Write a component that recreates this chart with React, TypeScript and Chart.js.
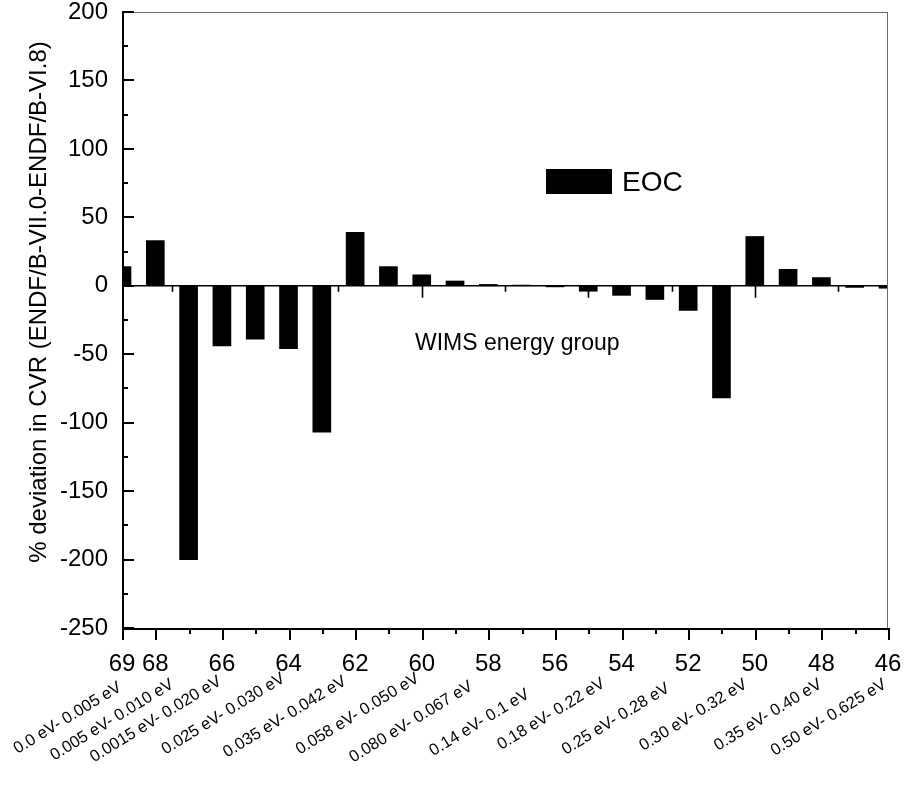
import React, { useEffect, useRef } from "react";
import { Chart, registerables } from "chart.js";

Chart.register(...registerables);

// ---- data ----
const groups = [69, 68, 67, 66, 65, 64, 63, 62, 61, 60, 59, 58, 57, 56, 55, 54, 53, 52, 51, 50, 49, 48, 47, 46];
const deviation = [14, 33, -200, -44, -39, -46, -107, 39, 14, 8, 3.5, 1, 0.5, -0.8, -4, -7, -10, -18, -82, 36, 12, 6, -1.2, -1.8];
const labelledGroups = [69, 68, 66, 64, 62, 60, 58, 56, 54, 52, 50, 48, 46];
const energyLabels = [
  "0.0 eV- 0.005 eV",
  "0.005 eV- 0.010 eV",
  "0.0015 eV- 0.020 eV",
  "0.025 eV- 0.030 eV",
  "0.035 eV- 0.042 eV",
  "0.058 eV- 0.050 eV",
  "0.080 eV- 0.067 eV",
  "0.14 eV- 0.1 eV",
  "0.18 eV- 0.22 eV",
  "0.25 eV- 0.28 eV",
  "0.30 eV- 0.32 eV",
  "0.35 eV- 0.40 eV",
  "0.50 eV- 0.625 eV",
];
const yMin = -250;
const yMax = 200;
const yStep = 25;
const seriesName = "EOC";
const yTitle = "% deviation in CVR (ENDF/B-VII.0-ENDF/B-VI.8)";
const plotNote = "WIMS energy group";

// ---- layout / style ----
const FONT = "'Liberation Sans', Arial, Helvetica, sans-serif";
const W = 904;
const H = 786;
// nudges (px) of each rotated energy label relative to its tick / plot bottom
const energyLabelNudge: [number, number][] = [
  [-2, 58], [17, 55], [-2, 52], [-5, 49], [-10, 52], [-4, 49], [-17, 57],
  [-27, 65], [-18, 54], [-20, 59], [-9, 55], [-1, 55], [-3, 55],
];

const overlay = {
  id: "overlay",
  afterDatasetsDraw(chart: any) {
    const ctx: CanvasRenderingContext2D = chart.ctx;
    const xs = chart.scales.x;
    const ys = chart.scales.y;
    const { left, right, top, bottom } = chart.chartArea;
    const line = (x1: number, y1: number, x2: number, y2: number) => {
      ctx.beginPath();
      ctx.moveTo(x1, y1);
      ctx.lineTo(x2, y2);
      ctx.stroke();
    };
    ctx.save();

    // zero line with its own ticks
    const y0 = ys.getPixelForValue(0);
    ctx.strokeStyle = "#000";
    ctx.lineWidth = 1.6;
    line(left, y0, right, y0);
    for (let v = 67.5; v > 46; v -= 2.5) {
      const px = Math.round(xs.getPixelForValue(v)) + 0.5;
      line(px, y0, px, y0 + (v % 5 === 0 ? 12 : 6));
    }

    // gray frame top/right
    ctx.strokeStyle = "#6a6a6a";
    ctx.lineWidth = 1;
    line(left, top + 0.5, right, top + 0.5);
    line(right - 0.5, top, right - 0.5, bottom);

    // left and bottom axes
    ctx.strokeStyle = "#000";
    ctx.lineWidth = 2;
    line(left + 1, top, left + 1, bottom + 2);
    line(left, bottom + 1, right, bottom + 1);

    // y ticks (inward)
    for (let v = yMin; v <= yMax; v += yStep) {
      const py = Math.round(ys.getPixelForValue(v));
      line(left, py, left + (v % 50 === 0 ? 12 : 6), py);
    }
    // x ticks (outward)
    for (const g of groups) {
      const px = Math.round(xs.getPixelForValue(g)) + 1;
      line(px, bottom, px, bottom + (labelledGroups.includes(g) ? 12 : 6));
    }

    // legend
    ctx.fillStyle = "#000";
    ctx.fillRect(left + 424, top + 157, 66, 25);
    ctx.font = `28px ${FONT}`;
    ctx.textAlign = "left";
    ctx.textBaseline = "middle";
    ctx.fillText(seriesName, left + 500, top + 171);

    // in-plot note
    ctx.font = `23px ${FONT}`;
    ctx.fillText(plotNote, left + 293, top + 332);

    // rotated energy labels
    ctx.font = `16.5px ${FONT}`;
    ctx.textAlign = "right";
    ctx.textBaseline = "middle";
    labelledGroups.forEach((g, i) => {
      const [dx, dy] = energyLabelNudge[i];
      ctx.save();
      ctx.translate(xs.getPixelForValue(g) + dx, bottom + dy);
      ctx.rotate((-31.5 * Math.PI) / 180);
      ctx.fillText(energyLabels[i], 0, 0);
      ctx.restore();
    });

    // y title
    ctx.save();
    ctx.font = `24px ${FONT}`;
    ctx.textAlign = "center";
    ctx.textBaseline = "middle";
    ctx.translate(39, (top + bottom) / 2 - 18);
    ctx.rotate(-Math.PI / 2);
    ctx.fillText(yTitle, 0, 0);
    ctx.restore();

    ctx.restore();
  },
};

export default function App() {
  const ref = useRef<HTMLCanvasElement | null>(null);
  useEffect(() => {
    document.documentElement.style.overflow = "hidden";
    const canvas = ref.current!;
    const yTickValues: number[] = [];
    for (let v = yMin; v <= yMax; v += yStep) yTickValues.push(v);
    const chart = new Chart(canvas, {
      type: "bar",
      data: {
        datasets: [
          {
            label: seriesName,
            data: groups.map((g, i) => ({ x: g, y: deviation[i] })),
            backgroundColor: "#000",
            borderWidth: 0,
            barThickness: 18,
            clip: 0,
          } as any,
        ],
      },
      options: {
        responsive: false,
        animation: false,
        devicePixelRatio: 1,
        layout: { padding: { top: 12, right: 16, left: 0, bottom: 0 } },
        plugins: { legend: { display: false }, tooltip: { enabled: false } },
        scales: {
          x: {
            type: "linear",
            reverse: true,
            min: 46,
            max: 69,
            offset: false,
            afterBuildTicks: (s: any) => {
              s.ticks = groups.map((v) => ({ value: v }));
            },
            afterFit: (s: any) => {
              s.height = 158;
              s.paddingLeft = 0;
              s.paddingRight = 0;
            },
            grid: { display: false, drawTicks: false },
            border: { display: false },
            ticks: {
              autoSkip: false,
              maxRotation: 0,
              minRotation: 0,
              padding: 22,
              color: "#000",
              font: { family: FONT, size: 24 },
              callback: (v: any) => (labelledGroups.includes(Number(v)) ? String(v) : ""),
            },
          },
          y: {
            type: "linear",
            min: yMin,
            max: yMax,
            afterBuildTicks: (s: any) => {
              s.ticks = yTickValues.map((v) => ({ value: v }));
            },
            afterFit: (s: any) => {
              s.width = 122;
              s.paddingTop = 0;
              s.paddingBottom = 0;
            },
            grid: { display: false, drawTicks: false },
            border: { display: false },
            ticks: {
              autoSkip: false,
              padding: 14,
              color: "#000",
              font: { family: FONT, size: 24 },
              callback: (v: any) => (Number(v) % 50 === 0 ? String(v) : ""),
            },
          },
        },
      } as any,
      plugins: [overlay],
    });
    return () => chart.destroy();
  }, []);
  return (
    <div style={{ position: "absolute", left: 0, top: 0, width: W, height: H, overflow: "hidden" }}>
      <canvas ref={ref} width={W} height={H} style={{ display: "block" }} />
    </div>
  );
}
